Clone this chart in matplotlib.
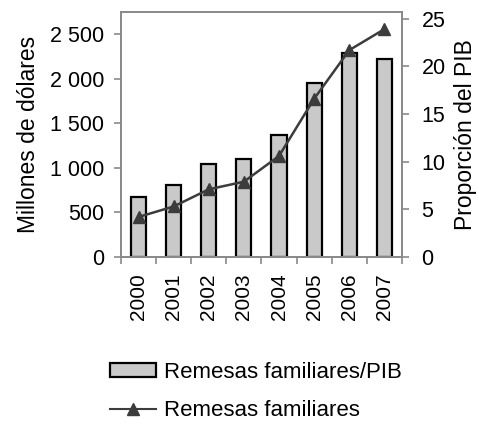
# -*- coding: utf-8 -*-
# Remesas familiares: barras (millones de dólares) + línea (proporción del PIB)

import matplotlib
matplotlib.use("Agg")
import matplotlib.pyplot as plt
from matplotlib.lines import Line2D
from matplotlib.patches import Patch
from matplotlib.ticker import FuncFormatter

# ----------------- datos -----------------
ANOS = ["2000", "2001", "2002", "2003", "2004", "2005", "2006", "2007"]
REMESAS_MDD = [669, 807, 1043, 1099, 1371, 1958, 2295, 2227]
REMESAS_PIB = [4.2, 5.3, 7.1, 7.9, 10.6, 16.6, 21.7, 23.9]

LEFT_TICKS = [0, 500, 1000, 1500, 2000, 2500]
RIGHT_TICKS = [0, 5, 10, 15, 20, 25]

# ----------------- estilo -----------------
BAR_FILL = "#c9c9c9"
LINE_COLOR = "#3c3c3c"
AXIS_GREY = "#8a8a8a"

plt.rcParams.update({
    "font.family": ["Liberation Sans", "DejaVu Sans"],
    "font.size": 16,
})


def _miles(v, pos=None):
    return f"{int(v):,}".replace(",", " ")


def main():
    fig = plt.figure(figsize=(4.79, 4.25), dpi=100)
    ax = fig.add_axes([0.2526, 0.3953, 0.5866, 0.5765])
    ax2 = ax.twinx()

    x = list(range(len(ANOS)))
    ax.bar(x, REMESAS_MDD, width=0.43, color=BAR_FILL,
           edgecolor="black", linewidth=1.6, zorder=2)
    ax2.plot(x, REMESAS_PIB, color=LINE_COLOR, linewidth=1.8,
             marker="^", markersize=9, markerfacecolor=LINE_COLOR,
             markeredgecolor=LINE_COLOR, zorder=3)

    # eje X: marcas entre categorías
    ax.set_xlim(-0.5, len(ANOS) - 0.5)
    ax.set_xticks([i - 0.5 for i in range(len(ANOS) + 1)], minor=False)
    ax.set_xticklabels([""] * (len(ANOS) + 1))
    ax.set_xticks(x, minor=True)
    ax.set_xticklabels(ANOS, minor=True, rotation=90, fontsize=15)
    ax.tick_params(axis="x", which="minor", length=0, pad=12)
    ax.tick_params(axis="x", which="major", length=5, width=1.2,
                   color=AXIS_GREY, direction="out")

    # ejes Y
    ax.set_ylim(0, 2750)
    ax.set_yticks(LEFT_TICKS)
    ax.yaxis.set_major_formatter(FuncFormatter(_miles))
    ax.tick_params(axis="y", length=5, width=1.2, color=AXIS_GREY,
                   labelsize=15.5, pad=7)
    ax.set_ylabel("Millones de dólares", fontsize=16.5, labelpad=7)

    ax2.set_ylim(0, 25.7)
    ax2.set_yticks(RIGHT_TICKS)
    ax2.tick_params(axis="y", length=5, width=1.2, color=AXIS_GREY,
                    labelsize=15.5, pad=9)
    ax2.set_ylabel("Proporción del PIB", fontsize=16.5, labelpad=6)

    for a in (ax, ax2):
        for sp in a.spines.values():
            sp.set_color(AXIS_GREY)
            sp.set_linewidth(1.3)

    # leyenda inferior
    handles = [
        Patch(facecolor=BAR_FILL, edgecolor="black", linewidth=1.6),
        Line2D([0], [0], color=LINE_COLOR, lw=1.5, marker="^",
               markersize=9, markerfacecolor=LINE_COLOR, markeredgecolor=LINE_COLOR),
    ]
    fig.legend(handles, ["Remesas familiares/PIB", "Remesas familiares"],
               loc="upper left", bbox_to_anchor=(0.212, 0.17),
               bbox_transform=fig.transFigure, frameon=False,
               fontsize=16, handlelength=2.05, handleheight=0.6,
               handletextpad=0.36, labelspacing=0.8, borderaxespad=0)

    fig.savefig("out.png", dpi=100)


if __name__ == "__main__":
    main()
